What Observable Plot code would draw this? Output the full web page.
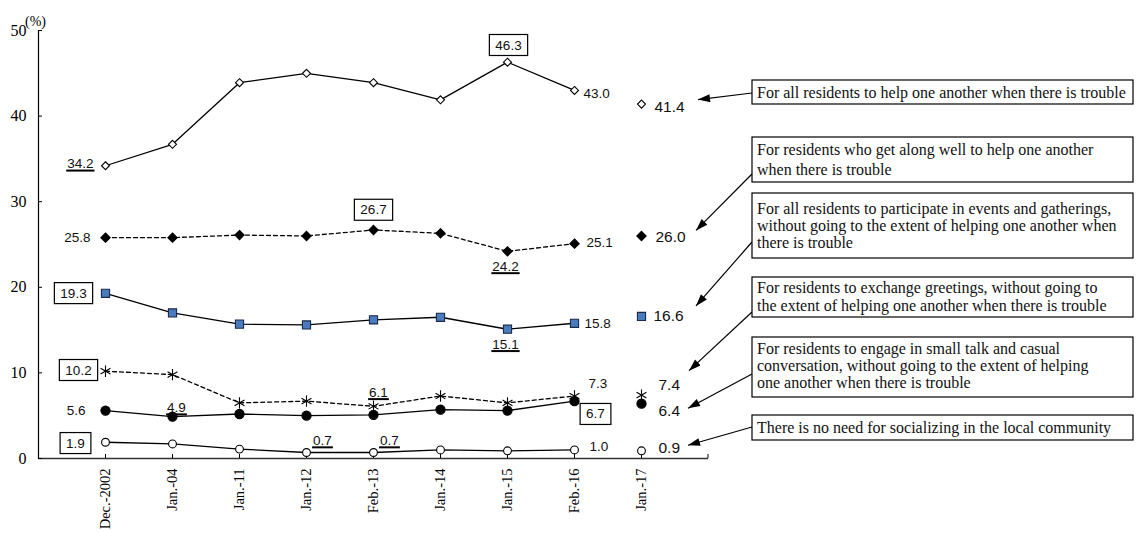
<!DOCTYPE html>
<html><head><meta charset="utf-8">
<script src="https://cdn.jsdelivr.net/npm/d3@7"></script>
<script src="https://cdn.jsdelivr.net/npm/@observablehq/plot@0.6"></script>
<style>
body{margin:0;background:#fff}
#chart{position:relative;width:1136px;height:533px}
</style>
</head><body><div id="chart"></div>
<script>
// ---------- data ----------
const dates = ["Dec.-2002","Jan.-04","Jan.-11","Jan.-12","Feb.-13","Jan.-14","Jan.-15","Feb.-16","Jan.-17"];
const helpAll      = [34.2, 36.7, 43.9, 45.0, 43.9, 41.9, 46.3, 43.0, 41.4];
const helpFriends  = [25.8, 25.8, 26.1, 26.0, 26.7, 26.3, 24.2, 25.1, 26.0];
const events       = [19.3, 17.0, 15.7, 15.6, 16.2, 16.5, 15.1, 15.8, 16.6];
const greetings    = [10.2, 9.8, 6.5, 6.7, 6.1, 7.3, 6.5, 7.3, 7.4];
const smallTalk    = [5.6, 4.9, 5.2, 5.0, 5.1, 5.7, 5.6, 6.7, 6.4];
const noNeed       = [1.9, 1.7, 1.1, 0.7, 0.7, 1.0, 0.9, 1.0, 0.9];
const yTicks = [0, 10, 20, 30, 40, 50];
const legendLines = [
  ["For all residents to help one another when there is trouble"],
  ["For residents who get along well to help one another", "when there is trouble"],
  ["For all residents to participate in events and gatherings,", "without going to the extent of helping one another when", "there is trouble"],
  ["For residents to exchange greetings, without going to", "the extent of helping one another when there is trouble"],
  ["For residents to engage in small talk and casual", "conversation, without going to the extent of helping", "one another when there is trouble"],
  ["There is no need for socializing in the local community"]
];
const seriesValues = [helpAll, helpFriends, events, greetings, smallTalk, noNeed];

// ---------- styles / layout ----------
const seriesStyle = [
  {symbol: "diamond2", r: 3.6, fill: "#fff", stroke: "#000", dash: null},
  {symbol: "diamond2", r: 4.2, fill: "#000", stroke: "#000", dash: "4,3"},
  {symbol: "square",   r: 4.6, fill: "#4a7bbd", stroke: "#1b2a48", dash: null},
  {symbol: "asterisk", r: 5.4, fill: "none", stroke: "#000", dash: "4,3"},
  {symbol: "circle",   r: 4.6, fill: "#000", stroke: "#000", dash: null},
  {symbol: "circle",   r: 3.9, fill: "#fff", stroke: "#000", dash: null}
];
// label placement: series, date index, offset, anchor, style
const annot = [
  {s:0,d:0,dx:-12,dy:-2,a:"end",k:"under"},
  {s:0,d:6,dx:1,dy:-17,a:"middle",k:"box"},
  {s:0,d:7,dx:9,dy:3,a:"start",k:"plain"},
  {s:0,d:8,dx:13,dy:3,a:"start",k:"big"},
  {s:1,d:0,dx:-15,dy:0,a:"end",k:"plain"},
  {s:1,d:4,dx:0,dy:-20,a:"middle",k:"box"},
  {s:1,d:6,dx:-2,dy:15,a:"middle",k:"under"},
  {s:1,d:7,dx:12,dy:-1,a:"start",k:"plain"},
  {s:1,d:8,dx:14,dy:1,a:"start",k:"big"},
  {s:2,d:0,dx:-32,dy:0,a:"middle",k:"box"},
  {s:2,d:6,dx:-2,dy:15,a:"middle",k:"under"},
  {s:2,d:7,dx:10,dy:0,a:"start",k:"plain"},
  {s:2,d:8,dx:12,dy:0,a:"start",k:"big"},
  {s:3,d:0,dx:-27,dy:-1,a:"middle",k:"box"},
  {s:3,d:4,dx:5,dy:-14,a:"middle",k:"under"},
  {s:3,d:7,dx:14,dy:-12,a:"start",k:"plain"},
  {s:3,d:8,dx:17,dy:-10,a:"start",k:"big"},
  {s:4,d:0,dx:-20,dy:0,a:"end",k:"plain"},
  {s:4,d:1,dx:4,dy:-9,a:"middle",k:"under"},
  {s:4,d:7,dx:21,dy:13,a:"middle",k:"box"},
  {s:4,d:8,dx:17,dy:7,a:"start",k:"big"},
  {s:5,d:0,dx:-30,dy:1,a:"middle",k:"box"},
  {s:5,d:3,dx:16,dy:-12,a:"middle",k:"under"},
  {s:5,d:4,dx:16,dy:-12,a:"middle",k:"under"},
  {s:5,d:7,dx:15,dy:-3,a:"start",k:"plain"},
  {s:5,d:8,dx:17,dy:-3,a:"start",k:"big"}
];
// legend boxes (pixel layout) and arrow tips (relative to the Jan.-17 point)
const boxLayout = [
  {top:80,  h:24, ys:[92],            startY:93,  tip:[57,-4]},
  {top:137, h:45, ys:[149,169],       startY:174, tip:[55,-5]},
  {top:193, h:65, ys:[208,225,242],   startY:242, tip:[55,-10]},
  {top:277, h:40, ys:[287,305],       startY:312, tip:[48,-24]},
  {top:337, h:60, ys:[348,365,382],   startY:374, tip:[47,5]},
  {top:415, h:25, ys:[427],           startY:427, tip:[47,-5]}
];
const boxX = 752, boxW = 381;

const table = [];
seriesValues.forEach((vals, si) => vals.forEach((v, di) => table.push({si, date: dates[di], di, value: v})));

const labelData = annot.map(a => ({...a, date: dates[a.d], value: seriesValues[a.s][a.d], text: seriesValues[a.s][a.d].toFixed(1)}));

const sansFont = "'Liberation Sans', Arial, sans-serif";
const serifFont = "'Liberation Serif', 'Times New Roman', serif";

const marks = [];
seriesStyle.forEach((st, si) => {
  marks.push(Plot.lineY(table.filter(d => d.si === si && d.di < 8), {
    x: "date", y: "value", stroke: "#000", strokeWidth: 1.3, strokeDasharray: st.dash
  }));
});
seriesStyle.forEach((st, si) => {
  marks.push(Plot.dot(table.filter(d => d.si === si), {
    x: "date", y: "value", symbol: st.symbol, r: st.r, fill: st.fill, stroke: st.stroke, strokeWidth: 1.1
  }));
});
labelData.forEach(d => {
  marks.push(Plot.text([d], {
    x: "date", y: "value", text: "text", dx: d.dx, dy: d.dy, textAnchor: d.a,
    fontSize: d.k === "big" ? 15.5 : 13.5, fontFamily: sansFont, fill: "#111",
    ariaDescription: "label-" + d.k
  }));
});

const plot = Plot.plot({
  width: 1136, height: 533,
  marginLeft: 38, marginRight: 428, marginTop: 30, marginBottom: 75,
  style: {fontFamily: serifFont, background: "#fff", overflow: "visible"},
  x: {type: "point", domain: dates, padding: 1, label: null},
  y: {domain: [0, 50], label: null},
  marks: [
    Plot.frame({anchor: "left", stroke: "#000", strokeWidth: 1.2}),
    Plot.ruleY([0], {stroke: "#333", strokeWidth: 1.5}),
    Plot.axisY({ticks: yTicks, tickSize: -4, tickPadding: 16, fontSize: 16, fontFamily: serifFont, label: null}),
    Plot.axisX({tickSize: -4, tickRotate: -90, tickPadding: 14, fontSize: 14.5, fontFamily: serifFont, label: null}),
    Plot.text(["(%)"], {frameAnchor: "top-left", dx: -3, dy: -14, textAnchor: "middle", fontSize: 14, fontFamily: serifFont}),
    ...marks
  ]
});
document.getElementById("chart").appendChild(plot);

// ---------- post-processing: boxes, underlines, legend, arrows ----------
const NS = "http://www.w3.org/2000/svg";
const svg = d3.select(plot);
function decorate(sel, make) {
  svg.selectAll(sel).each(function() {
    const bb = this.getBBox();
    const cy = bb.y + bb.height / 2;
    const el = make(bb, cy);
    const tr = this.getAttribute("transform");
    if (tr) el.setAttribute("transform", tr);
    this.parentNode.insertBefore(el, this);
  });
}
decorate('g[aria-description="label-box"] text', (bb, cy) => {
  const r = document.createElementNS(NS, "rect");
  r.setAttribute("x", bb.x - 6); r.setAttribute("y", cy - 10.5);
  r.setAttribute("width", bb.width + 12); r.setAttribute("height", 21);
  r.setAttribute("fill", "#fff"); r.setAttribute("stroke", "#000"); r.setAttribute("stroke-width", 1.2);
  return r;
});
decorate('g[aria-description="label-under"] text', (bb, cy) => {
  const l = document.createElementNS(NS, "line");
  l.setAttribute("x1", bb.x - 1); l.setAttribute("x2", bb.x + bb.width + 1);
  l.setAttribute("y1", cy + 7); l.setAttribute("y2", cy + 7);
  l.setAttribute("stroke", "#000"); l.setAttribute("stroke-width", 2);
  return l;
});

const xs = plot.scale("x"), ys = plot.scale("y");
const x1 = xs.range[1], y0 = ys.apply(0);
const g = svg.append("g").attr("aria-label", "legend").attr("text-anchor", "start");
// right end tick of the category axis
g.append("line").attr("x1", x1).attr("x2", x1).attr("y1", y0 - 4).attr("y2", y0).attr("stroke", "#000");
const defs = svg.append("defs");
defs.append("marker").attr("id", "arrowHead").attr("viewBox", "0 0 12 8").attr("refX", 12).attr("refY", 4)
  .attr("markerUnits", "userSpaceOnUse").attr("markerWidth", 13).attr("markerHeight", 8).attr("orient", "auto")
  .append("path").attr("d", "M0,0L12,4L0,8Z").attr("fill", "#000");
const lastX = xs.apply(dates[8]);
boxLayout.forEach((b, i) => {
  const tipX = lastX + b.tip[0], tipY = ys.apply(seriesValues[i][8]) + b.tip[1];
  g.append("line").attr("x1", boxX).attr("y1", b.startY).attr("x2", tipX).attr("y2", tipY)
    .attr("stroke", "#000").attr("stroke-width", 1.2).attr("marker-end", "url(#arrowHead)");
  g.append("rect").attr("x", boxX).attr("y", b.top).attr("width", boxW).attr("height", b.h)
    .attr("fill", "#fff").attr("stroke", "#000").attr("stroke-width", 1.2);
  legendLines[i].forEach((line, j) => {
    g.append("text").attr("x", boxX + 5).attr("y", b.ys[j]).attr("dy", "0.35em").attr("text-anchor", "start")
      .attr("font-family", serifFont).attr("font-size", 16).attr("fill", "#111").text(line);
  });
});
</script>
</body></html>
